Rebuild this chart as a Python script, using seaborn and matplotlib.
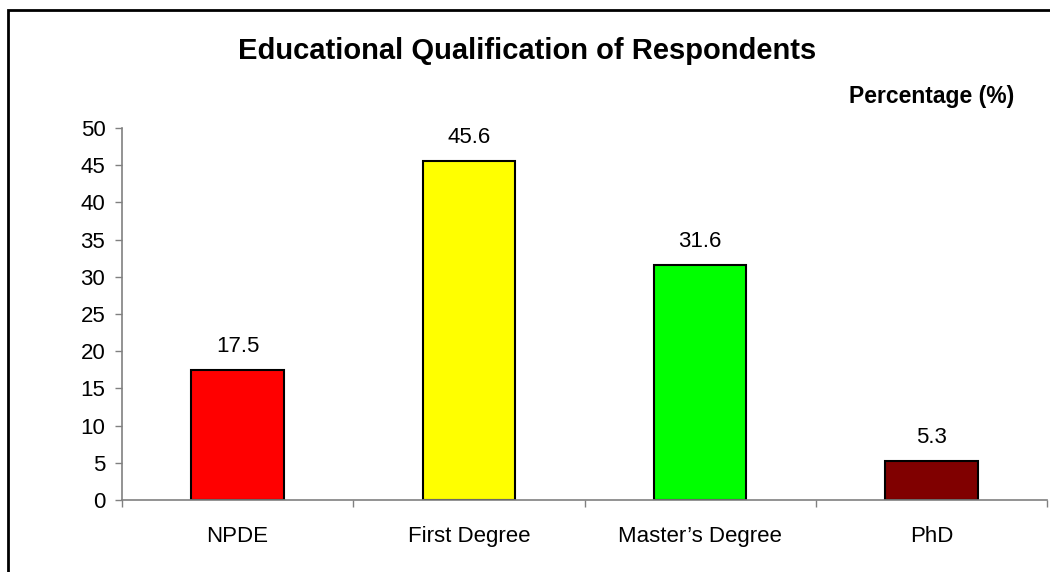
import matplotlib
matplotlib.use('Agg')
import matplotlib.pyplot as plt
import seaborn as sns
import pandas as pd
from matplotlib.patches import Rectangle

# Chart data
categories = ['NPDE', 'First Degree', 'Master\u2019s Degree', 'PhD']
percentages = [17.5, 45.6, 31.6, 5.3]
bar_colors = ['#FF0000', '#FFFF00', '#00FF00', '#800000']
y_ticks = [0, 5, 10, 15, 20, 25, 30, 35, 40, 45, 50]

df = pd.DataFrame({'Qualification': categories, 'Percentage': percentages})

sns.set_style('white')
plt.rcParams['font.family'] = ['Liberation Sans', 'DejaVu Sans']
plt.rcParams['text.color'] = 'black'
plt.rcParams['xtick.color'] = 'black'
plt.rcParams['ytick.color'] = 'black'

fig = plt.figure(figsize=(10.5, 5.72), dpi=100)
ax = fig.add_axes([122 / 1050, 1 - 500 / 572, (1047 - 122) / 1050, (500 - 128) / 572])

sns.barplot(data=df, x='Qualification', y='Percentage', hue='Qualification',
            palette=bar_colors, saturation=1, legend=False, width=0.40,
            edgecolor='black', linewidth=1.5, ax=ax)

# value labels above bars
for i, v in enumerate(percentages):
    ax.annotate(f'{v}', (i, v), xytext=(0, 13), textcoords='offset points',
                ha='center', va='baseline', fontsize=16)

ax.set_xlim(-0.5, 3.5)
ax.set_ylim(0, 50)
ax.set_yticks(y_ticks)
ax.set_xlabel('')
ax.set_ylabel('')

# major ticks at category boundaries, labels on minor ticks
ax.set_xticks([-0.5, 0.5, 1.5, 2.5, 3.5])
ax.set_xticklabels([])
ax.set_xticks(range(len(categories)), minor=True)
ax.set_xticklabels(categories, minor=True, fontsize=16)
ax.tick_params(axis='x', which='major', direction='out', length=5, width=1, color='#808080', bottom=True)
ax.tick_params(axis='x', which='minor', length=0, pad=19)
ax.tick_params(axis='y', direction='out', length=5, width=1, color='#808080', left=True, labelsize=16, pad=7)

for side in ['top', 'right']:
    ax.spines[side].set_visible(False)
for side in ['left', 'bottom']:
    ax.spines[side].set_color('#808080')
    ax.spines[side].set_linewidth(1.2)

fig.text(527 / 1050, 1 - 51 / 572, 'Educational Qualification of Respondents',
         ha='center', va='center', fontsize=21, fontweight='bold')
fig.text(1014 / 1050, 1 - 97 / 572, 'Percentage (%)',
         ha='right', va='center', fontsize=16.5, fontweight='bold')

# outer chart border (left and top visible)
fig.patches.append(Rectangle((8 / 1050, -0.1), 1.2, 1 - 10 / 572 + 0.1,
                             transform=fig.transFigure, fill=False,
                             edgecolor='black', linewidth=2))

fig.savefig('out.png', dpi=100)
